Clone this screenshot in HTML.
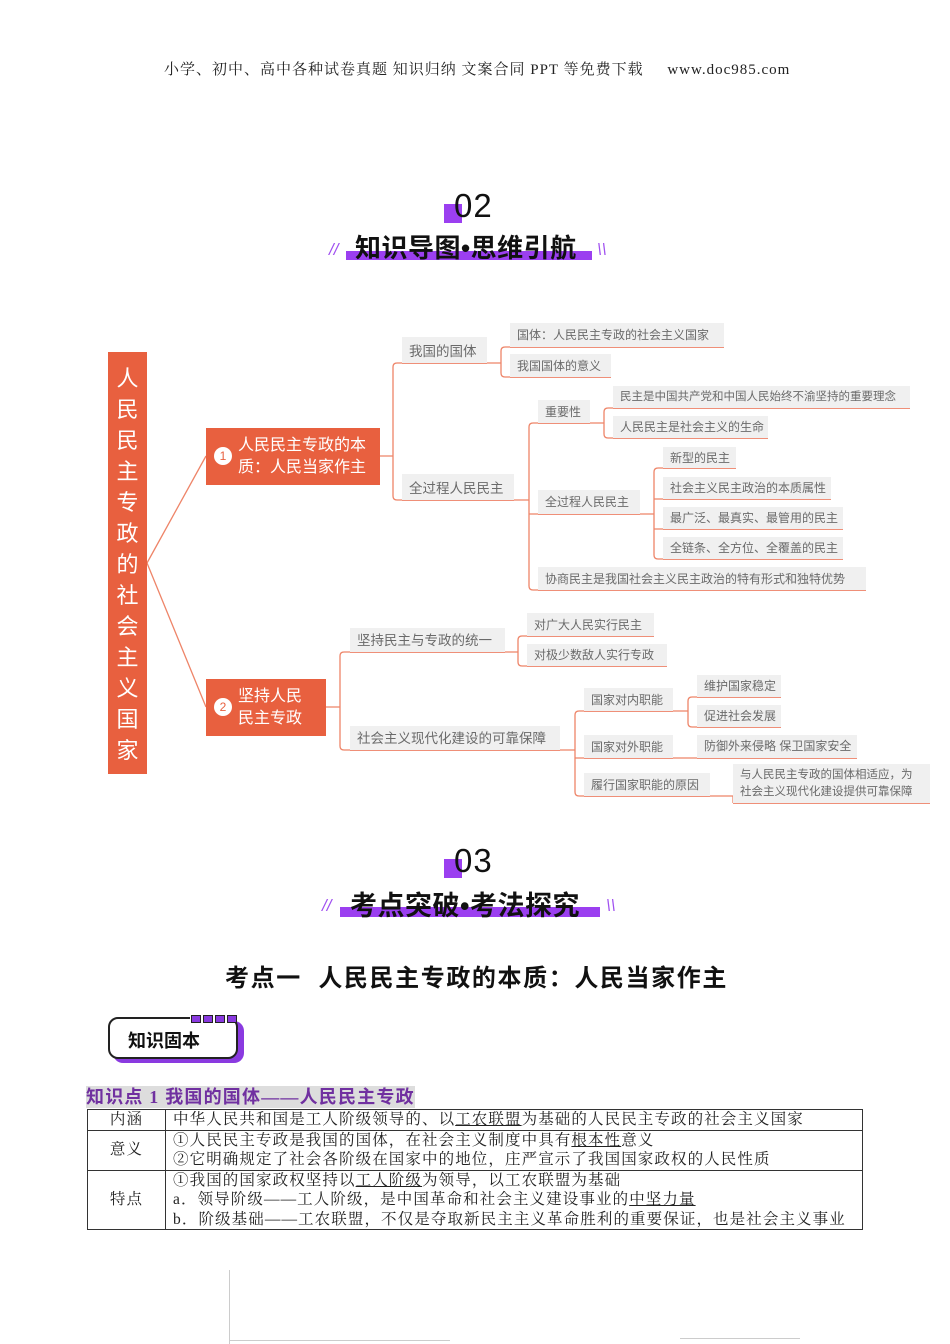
<!DOCTYPE html>
<html><head><meta charset="utf-8">
<style>
body{margin:0;background:#fff;}
#p{position:relative;width:950px;height:1344px;overflow:hidden;font-family:"Liberation Sans","Noto Sans CJK SC",sans-serif;}
.a{position:absolute;white-space:nowrap;}
.n{position:absolute;background:#f0f0f0;border-bottom:1.5px solid #ef8f78;color:#6a6a6a;font-size:12px;white-space:nowrap;box-sizing:border-box;padding-left:7px;}
.n.b{font-size:13.5px;}
.serif{font-family:"Liberation Serif","Noto Serif CJK SC",serif;}
.ttl{position:absolute;font-weight:bold;font-size:24px;color:#111;white-space:nowrap;font-family:"Liberation Sans","Noto Sans CJK SC",sans-serif;}
td{border:1px solid #333;padding:0 7px;font-size:15.5px;line-height:19.5px;font-family:"Liberation Serif","Noto Serif CJK SC",serif;color:#222;letter-spacing:1.1px;}
u{text-decoration:underline;}
</style></head><body><div id="p">

<div class="a serif" style="left:164px;top:58px;font-size:15px;letter-spacing:1px;color:#222;">小学、初中、高中各种试卷真题 知识归纳 文案合同 PPT 等免费下载&nbsp;&nbsp;&nbsp;&nbsp; www.doc985.com</div>

<!-- 02 header -->
<div class="a" style="left:444px;top:204px;width:18px;height:19px;background:#9b3ff0;"></div>
<div class="a" style="left:454px;top:187px;font-size:33px;color:#111;letter-spacing:1px;">02</div>
<div class="a" style="left:346px;top:251px;width:246px;height:9px;background:#9b3ff0;"></div>
<div class="ttl" style="left:355px;top:228px;font-size:26px;letter-spacing:0.5px;">知识导图•思维引航</div>
<div class="a" style="left:329px;top:240px;font-size:17px;color:#a050f0;font-style:italic;">//</div>
<div class="a" style="left:597px;top:240px;font-size:17px;color:#a050f0;font-style:italic;">\\</div>

<!-- mind map connectors -->
<svg class="a" style="left:0;top:0" width="950" height="850">
<g fill="none" stroke="#ee8468" stroke-width="1.3">
<path d="M147 563 L206 456"/>
<path d="M147 563 L206 707"/>
<path d="M380 456 H393 M402 363 H397 Q393 363 393 367 V496 Q393 500 397 500 H402"/>
<path d="M487 363 H501 M510 347 H505 Q501 347 501 351 V373 Q501 377 505 377 H510"/>
<path d="M514 500 H529 M538 423 H533 Q529 423 529 427 V586 Q529 590 533 590 H538 M529 514 H538"/>
<path d="M590 423 H604 M613 408 H608 Q604 408 604 412 V434 Q604 438 608 438 H613"/>
<path d="M640 514 H654 M663 468 H658 Q654 468 654 472 V555 Q654 559 658 559 H663 M654 499 H663 M654 529 H663"/>
<path d="M326 707 H340 M350 652 H344 Q340 652 340 656 V746 Q340 750 344 750 H350"/>
<path d="M505 652 H518 M527 636 H522 Q518 636 518 640 V662 Q518 666 522 666 H527"/>
<path d="M560 750 H575 M584 711 H579 Q575 711 575 715 V792 Q575 796 579 796 H584 M575 758 H584"/>
<path d="M673 711 H688 M697 697 H692 Q688 697 688 701 V723 Q688 727 692 727 H697"/>
<path d="M673 758 H697"/>
<path d="M710 796 H733 V803"/>
</g></svg>

<!-- root -->
<div class="a" style="left:108px;top:352px;width:39px;height:422px;background:#e8603f;color:#fff;font-size:22px;line-height:31px;text-align:center;white-space:normal;padding-top:11px;box-sizing:border-box;">人<br>民<br>民<br>主<br>专<br>政<br>的<br>社<br>会<br>主<br>义<br>国<br>家</div>

<div class="a" style="left:206px;top:428px;width:174px;height:57px;background:#e8603f;color:#fff;font-size:16px;line-height:22px;">
<div class="a" style="left:8px;top:19px;width:18px;height:18px;border-radius:50%;background:#fff;color:#e8603f;font-size:12px;line-height:18px;text-align:center;">1</div>
<div class="a" style="left:32px;top:7px;">人民民主专政的本<br>质：人民当家作主</div></div>

<div class="a" style="left:206px;top:679px;width:120px;height:57px;background:#e8603f;color:#fff;font-size:16px;line-height:22px;">
<div class="a" style="left:8px;top:19px;width:18px;height:18px;border-radius:50%;background:#fff;color:#e8603f;font-size:12px;line-height:18px;text-align:center;">2</div>
<div class="a" style="left:32px;top:7px;">坚持人民<br>民主专政</div></div>

<div class="n b" style="left:402px;top:337px;width:85px;height:27px;line-height:29px;">我国的国体</div>
<div class="n b" style="left:402px;top:474px;width:112px;height:27px;line-height:29px;">全过程人民民主</div>
<div class="n" style="left:510px;top:323px;width:214px;height:25px;line-height:25px;">国体：人民民主专政的社会主义国家</div>
<div class="n" style="left:510px;top:354px;width:101px;height:24px;line-height:25px;">我国国体的意义</div>
<div class="n" style="left:538px;top:400px;width:52px;height:24px;line-height:25px;">重要性</div>
<div class="n" style="left:538px;top:490px;width:102px;height:25px;line-height:25px;">全过程人民民主</div>
<div class="n" style="left:538px;top:567px;width:328px;height:24px;line-height:25px;">协商民主是我国社会主义民主政治的特有形式和独特优势</div>
<div class="n" style="left:613px;top:386px;width:297px;height:23px;line-height:23px;font-size:11.5px;">民主是中国共产党和中国人民始终不渝坚持的重要理念</div>
<div class="n" style="left:613px;top:416px;width:155px;height:23px;line-height:23px;">人民民主是社会主义的生命</div>
<div class="n" style="left:663px;top:447px;width:73px;height:22px;line-height:22px;">新型的民主</div>
<div class="n" style="left:663px;top:477px;width:168px;height:23px;line-height:22px;">社会主义民主政治的本质属性</div>
<div class="n" style="left:663px;top:507px;width:180px;height:23px;line-height:22px;">最广泛、最真实、最管用的民主</div>
<div class="n" style="left:663px;top:537px;width:180px;height:23px;line-height:22px;">全链条、全方位、全覆盖的民主</div>

<div class="n b" style="left:350px;top:628px;width:155px;height:25px;line-height:26px;">坚持民主与专政的统一</div>
<div class="n b" style="left:350px;top:726px;width:210px;height:25px;line-height:26px;">社会主义现代化建设的可靠保障</div>
<div class="n" style="left:527px;top:613px;width:127px;height:24px;line-height:24px;">对广大人民实行民主</div>
<div class="n" style="left:527px;top:644px;width:140px;height:23px;line-height:23px;">对极少数敌人实行专政</div>
<div class="n" style="left:584px;top:688px;width:89px;height:24px;line-height:24px;">国家对内职能</div>
<div class="n" style="left:584px;top:735px;width:89px;height:24px;line-height:24px;">国家对外职能</div>
<div class="n" style="left:584px;top:773px;width:126px;height:24px;line-height:24px;">履行国家职能的原因</div>
<div class="n" style="left:697px;top:675px;width:84px;height:23px;line-height:22px;">维护国家稳定</div>
<div class="n" style="left:697px;top:705px;width:84px;height:23px;line-height:22px;">促进社会发展</div>
<div class="n" style="left:697px;top:735px;width:160px;height:24px;line-height:23px;">防御外来侵略 保卫国家安全</div>
<div class="n" style="left:733px;top:764px;width:197px;height:40px;line-height:17px;padding-top:3px;font-size:11.5px;">与人民民主专政的国体相适应，为<br>社会主义现代化建设提供可靠保障</div>

<!-- 03 header -->
<div class="a" style="left:444px;top:859px;width:18px;height:19px;background:#9b3ff0;"></div>
<div class="a" style="left:454px;top:842px;font-size:33px;color:#111;letter-spacing:1px;">03</div>
<div class="a" style="left:340px;top:907px;width:260px;height:10px;background:#9b3ff0;"></div>
<div class="ttl" style="left:350px;top:884px;font-size:27px;letter-spacing:0.5px;">考点突破•考法探究</div>
<div class="a" style="left:322px;top:896px;font-size:17px;color:#a050f0;font-style:italic;">//</div>
<div class="a" style="left:606px;top:896px;font-size:17px;color:#a050f0;font-style:italic;">\\</div>

<div class="ttl" style="left:225px;top:958px;letter-spacing:1.6px;">考点一&nbsp; 人民民主专政的本质：人民当家作主</div>

<!-- badge -->
<div class="a" style="left:113px;top:1021px;width:131px;height:42px;background:#8a3ae0;border-radius:10px;"></div>
<div class="a" style="left:108px;top:1017px;width:130px;height:42px;background:#fff;border:2.5px solid #222;border-radius:10px;box-sizing:border-box;"></div>
<div class="a" style="left:190px;top:1014px;width:44px;height:8px;background:#fff;"></div>
<div class="a" style="left:191px;top:1015px;font-size:0;">
<span style="display:inline-block;width:8px;height:6px;border:1.5px solid #222;background:#8a3ae0;margin-right:2px;"></span><span style="display:inline-block;width:8px;height:6px;border:1.5px solid #222;background:#8a3ae0;margin-right:2px;"></span><span style="display:inline-block;width:8px;height:6px;border:1.5px solid #222;background:#8a3ae0;margin-right:2px;"></span><span style="display:inline-block;width:8px;height:6px;border:1.5px solid #222;background:#8a3ae0;"></span></div>
<div class="a" style="left:128px;top:1027px;font-size:18px;font-weight:bold;color:#111;">知识固本</div>

<div class="a" style="left:86px;top:1086px;height:22px;background:#ddd;color:#7030a0;font-weight:bold;font-size:18px;line-height:22px;letter-spacing:1.2px;font-family:'Liberation Serif','Noto Sans CJK SC',sans-serif;">知识点 1 我国的国体——人民民主专政</div>

<table style="position:absolute;left:87px;top:1109px;width:776px;border-collapse:collapse;">
<tr><td style="width:63px;text-align:center;">内涵</td><td>中华人民共和国是工人阶级领导的、以<u>工农联盟</u>为基础的人民民主专政的社会主义国家</td></tr>
<tr><td style="text-align:center;">意义</td><td>①人民民主专政是我国的国体，在社会主义制度中具有<u>根本性</u>意义<br>②它明确规定了社会各阶级在国家中的地位，庄严宣示了我国国家政权的人民性质</td></tr>
<tr><td style="text-align:center;">特点</td><td>①我国的国家政权坚持以<u>工人阶级</u>为领导，以工农联盟为基础<br>a．领导阶级——工人阶级，是中国革命和社会主义建设事业的<u>中坚力量</u><br>b．阶级基础——工农联盟，不仅是夺取新民主主义革命胜利的重要保证，也是社会主义事业</td></tr>
</table>

<div class="a" style="left:229px;top:1270px;width:1px;height:74px;background:#ccc;"></div>
<div class="a" style="left:229px;top:1340px;width:221px;height:1px;background:#ccc;"></div>
<div class="a" style="left:680px;top:1338px;width:120px;height:1px;background:#ccc;"></div>
</div></body></html>
